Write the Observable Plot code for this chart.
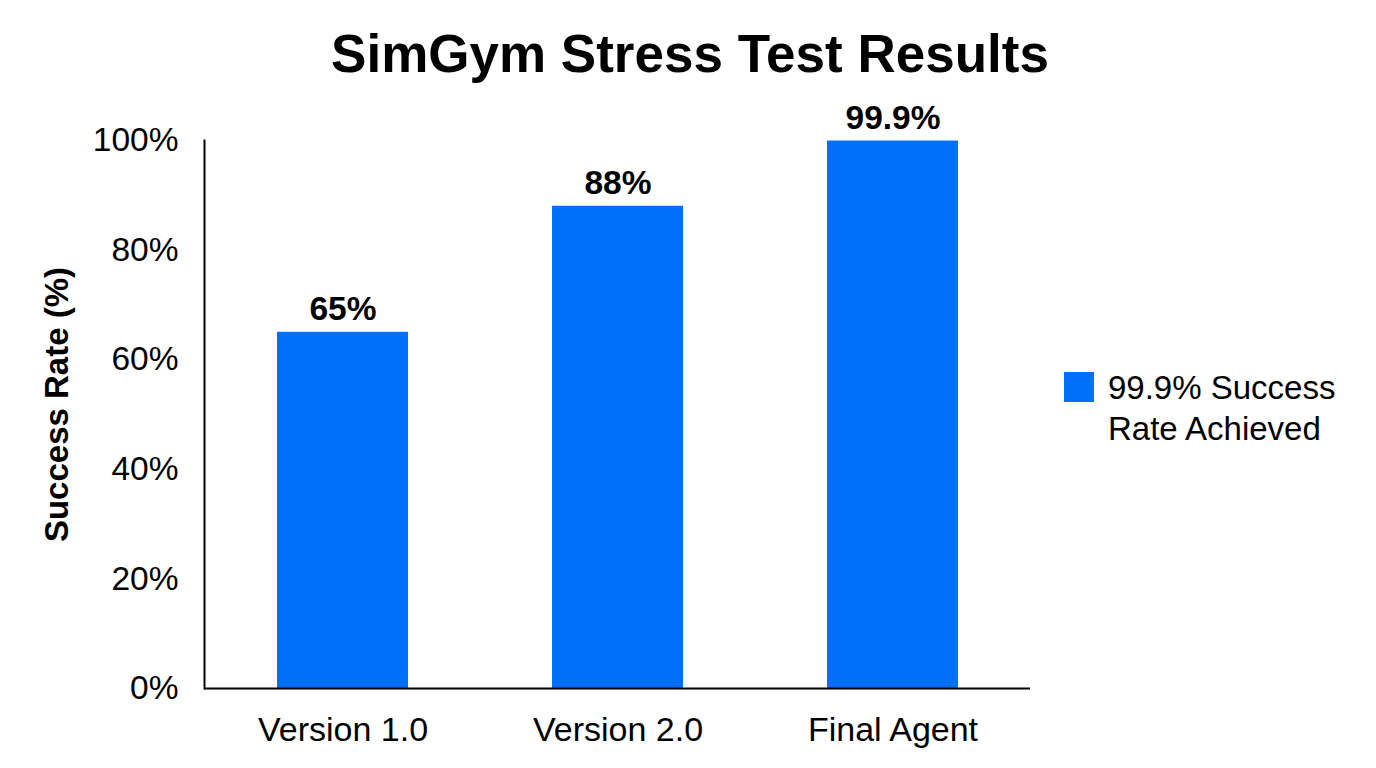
<!DOCTYPE html>
<html>
<head>
<meta charset="utf-8">
<script src="https://cdn.jsdelivr.net/npm/d3@7"></script>
<script src="https://cdn.jsdelivr.net/npm/@observablehq/plot@0.6"></script>
<style>
  html, body { margin: 0; padding: 0; background: #fff; }
  #wrap { position: relative; width: 1376px; height: 768px; overflow: hidden; font-family: "Liberation Sans", Arial, sans-serif; color: #000; }
  #title { position: absolute; left: 0; width: 1380px; top: 24px; text-align: center; font-size: 53px; font-weight: bold; line-height: 60px; }
  #legend { position: absolute; left: 1064px; top: 367px; display: flex; align-items: flex-start; }
  #legend .sw { width: 30px; height: 30px; background: #0070fa; margin-top: 5px; margin-right: 14px; }
  #legend .tx { font-size: 33px; line-height: 41px; }
  #chart { position: absolute; left: 0; top: 0; }
</style>
</head>
<body>
<div id="wrap">
  <div id="chart"></div>
  <div id="title">SimGym Stress Test Results</div>
  <div id="legend"><div class="sw"></div><div class="tx">99.9% Success<br>Rate Achieved</div></div>
</div>
<script>
const categories = ["Version 1.0", "Version 2.0", "Final Agent"];
const successRates = [65, 88, 99.9];
const valueLabels = ["65%", "88%", "99.9%"];
const yTicks = [0, 20, 40, 60, 80, 100];
const yTickLabels = ["0%", "20%", "40%", "60%", "80%", "100%"];
const yTitle = "Success Rate (%)";
const barColor = "#0070fa";

const data = categories.map((c, i) => ({ cat: c, value: successRates[i], label: valueLabels[i] }));

const chart = Plot.plot({
  width: 1376,
  height: 768,
  marginLeft: 204,
  marginRight: 346,
  marginTop: 140,
  marginBottom: 80,
  style: { fontFamily: "'Liberation Sans', Arial, sans-serif", fontSize: "32px", color: "#000", background: "transparent" },
  x: { domain: categories, paddingInner: 0.524, paddingOuter: 0.262 },
  y: { domain: [0, 100] },
  marks: [
    Plot.barY(data, { x: "cat", y: "value", fill: barColor }),
    Plot.axisY({ ticks: yTicks, tickFormat: (d) => yTickLabels[yTicks.indexOf(d)], tickSize: 0, tickPadding: 26, fontSize: 33.5, label: null }),
    Plot.axisX({ tickSize: 0, tickPadding: 28, fontSize: 34, label: null }),
    Plot.text([yTitle], { frameAnchor: "left", textAnchor: "middle", rotate: -90, dx: -147, dy: -10, fontSize: 33, fontWeight: "bold", fill: "#000" }),
    Plot.text(data, { x: "cat", y: "value", text: "label", lineAnchor: "bottom", dy: -12, fontSize: 33.5, fontWeight: "bold", fill: "#000" }),
    Plot.ruleY([0], { stroke: "#000", strokeWidth: 2 }),
    Plot.frame({ anchor: "left", stroke: "#000", strokeWidth: 2 })
  ]
});
document.getElementById("chart").appendChild(chart);
</script>
</body>
</html>
